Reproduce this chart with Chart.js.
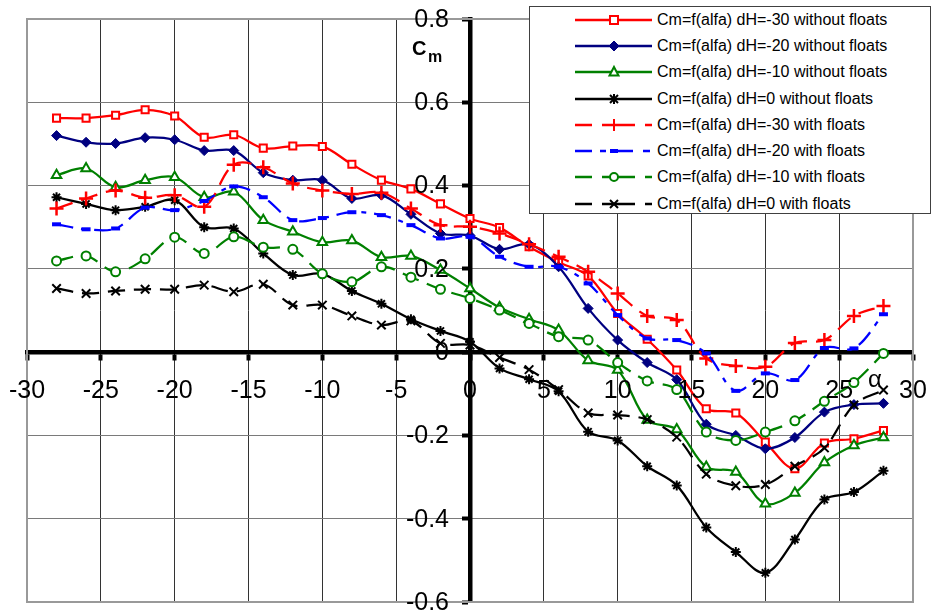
<!DOCTYPE html>
<html>
<head>
<meta charset="utf-8">
<script src="https://cdn.jsdelivr.net/npm/chart.js@4.4.1/dist/chart.umd.min.js"></script>
<style>
html,body{margin:0;padding:0;background:#fff;}
#wrap{position:relative;width:935px;height:613px;overflow:hidden;}
canvas{position:absolute;left:0;top:0;}
#legend{position:absolute;left:529px;top:6px;width:402px;height:208px;border:1px solid #404040;background:#fff;box-sizing:border-box;font-family:"Liberation Sans",Arial,sans-serif;font-size:16px;color:#000;}
.row{position:absolute;left:0;height:20px;width:400px;}
.row svg{position:absolute;left:45px;top:0;}
.row span{position:absolute;left:127px;top:1px;line-height:18px;white-space:nowrap;}
.lbl{position:absolute;font-family:"Liberation Sans",Arial,sans-serif;color:#000;white-space:nowrap;}
</style>
</head>
<body>
<div id="wrap">
<canvas id="c" width="935" height="613"></canvas>
<div id="legend"></div>
<div class="lbl" style="left:412px;top:38px;font-size:20px;line-height:20px;font-weight:bold;">C</div>
<div class="lbl" style="left:428px;top:49px;font-size:16px;line-height:16px;font-weight:bold;">m</div>
<div class="lbl" style="left:868px;top:367px;font-size:24px;line-height:24px;">α</div>
</div>
<script>
// ---- data ----
const alpha = [-28,-26,-24,-22,-20,-18,-16,-14,-12,-10,-8,-6,-4,-2,0,2,4,6,8,10,12,14,16,18,20,22,24,26,28];

const cmM30NoFloats = [0.562,0.562,0.569,0.582,0.567,0.516,0.522,0.490,0.495,0.494,0.451,0.413,0.392,0.356,0.321,0.299,0.253,0.216,0.183,0.093,0.031,-0.043,-0.136,-0.146,-0.216,-0.280,-0.218,-0.208,-0.188];
const cmM20NoFloats = [0.520,0.504,0.501,0.515,0.510,0.484,0.484,0.431,0.413,0.413,0.369,0.377,0.331,0.285,0.280,0.247,0.259,0.205,0.105,0.029,-0.025,-0.066,-0.173,-0.200,-0.232,-0.205,-0.144,-0.126,-0.123];
const cmM10NoFloats = [0.425,0.441,0.396,0.413,0.420,0.372,0.385,0.317,0.289,0.264,0.268,0.228,0.231,0.197,0.153,0.107,0.079,0.053,-0.020,-0.043,-0.163,-0.186,-0.276,-0.288,-0.364,-0.338,-0.265,-0.224,-0.205];
const cm0NoFloats   = [0.372,0.356,0.341,0.349,0.365,0.300,0.297,0.237,0.185,0.188,0.147,0.116,0.079,0.051,0.025,-0.039,-0.065,-0.094,-0.191,-0.212,-0.274,-0.320,-0.421,-0.480,-0.530,-0.450,-0.354,-0.336,-0.285];
const cmM30Floats   = [0.345,0.369,0.388,0.371,0.377,0.349,0.450,0.444,0.405,0.388,0.380,0.383,0.345,0.305,0.301,0.285,0.259,0.229,0.193,0.141,0.087,0.077,-0.015,-0.033,-0.035,0.022,0.029,0.087,0.111];
const cmM20Floats   = [0.307,0.295,0.297,0.347,0.341,0.363,0.398,0.372,0.317,0.322,0.336,0.329,0.305,0.273,0.277,0.229,0.205,0.205,0.165,0.089,0.033,0.029,-0.003,-0.093,-0.051,-0.067,0.010,0.009,0.091];
const cmM10Floats   = [0.219,0.231,0.193,0.224,0.276,0.237,0.277,0.252,0.247,0.188,0.169,0.205,0.180,0.151,0.129,0.101,0.069,0.037,0.029,-0.025,-0.069,-0.090,-0.192,-0.212,-0.192,-0.165,-0.118,-0.073,-0.003];
const cm0Floats     = [0.153,0.141,0.147,0.151,0.151,0.161,0.145,0.163,0.113,0.113,0.087,0.065,0.075,0.021,0.017,-0.013,-0.042,-0.090,-0.146,-0.151,-0.162,-0.204,-0.293,-0.321,-0.318,-0.274,-0.230,-0.127,-0.091];

const seriesNames = [
  "Cm=f(alfa) dH=-30 without floats",
  "Cm=f(alfa) dH=-20 without floats",
  "Cm=f(alfa) dH=-10 without floats",
  "Cm=f(alfa) dH=0 without floats",
  "Cm=f(alfa) dH=-30 with floats",
  "Cm=f(alfa) dH=-20 with floats",
  "Cm=f(alfa) dH=-10 with floats",
  "Cm=f(alfa) dH=0 with floats"
];
const xTickLabels = ["-30","-25","-20","-15","-10","-5","0","5","10","15","20","25","30"];
const yTickLabels = ["-0.6","-0.4","-0.2","0","0.2","0.4","0.6","0.8"];

// ---- styles ----
const FONT = '"Liberation Sans", Arial, sans-serif';
const styles = [
  {color:'#FF0000', dash:[], point:'rect', r:5, bw:2, fill:'#FFFFFF'},
  {color:'#000080', dash:[], point:'rectRot', r:5, bw:1, fill:'#000080'},
  {color:'#008000', dash:[], point:'triangle', r:5.5, bw:2, fill:'#FFFFFF'},
  {color:'#000000', dash:[], point:'star', r:5, bw:2, fill:'#000000'},
  {color:'#FF0000', dash:[17,9], point:'cross', r:7, bw:2.5, fill:'#FF0000'},
  {color:'#0000FF', dash:[17,8,5,8], point:'line', r:4.5, bw:4, fill:'#0000FF'},
  {color:'#008000', dash:[17,9], point:'circle', r:4.5, bw:2, fill:'#FFFFFF'},
  {color:'#000000', dash:[17,9], point:'crossRot', r:6, bw:2, fill:'#000000'}
];
const values = [cmM30NoFloats,cmM20NoFloats,cmM10NoFloats,cm0NoFloats,cmM30Floats,cmM20Floats,cmM10Floats,cm0Floats];

const datasets = values.map((vals,i)=>({
  label: seriesNames[i],
  data: alpha.map((a,k)=>({x:a,y:vals[k]})),
  borderColor: styles[i].color,
  borderWidth: 2.25,
  borderDash: styles[i].dash,
  tension: 0.35,
  fill:false,
  pointStyle: styles[i].point,
  pointRadius: styles[i].r,
  pointBorderWidth: styles[i].bw,
  pointBorderColor: styles[i].color,
  pointBackgroundColor: styles[i].fill,
  order: 8 - i
}));

const framePlugin = {
  id:'frame',
  beforeDatasetsDraw(chart){
    const {ctx, chartArea:a} = chart;
    ctx.save();
    ctx.strokeStyle = '#999999';
    ctx.lineWidth = 2;
    ctx.strokeRect(a.left, a.top, a.right - a.left, a.bottom - a.top);
    ctx.restore();
  }
};

// tick labels placed through the library scales (axes cross at the origin)
const tickLabelPlugin = {
  id:'tickLabels',
  afterDatasetsDraw(chart){
    const {ctx, scales:{x, y}} = chart;
    const x0 = x.getPixelForValue(0), y0 = y.getPixelForValue(0);
    ctx.save();
    ctx.fillStyle = '#000';
    ctx.font = '25px ' + FONT;
    ctx.textBaseline = 'middle';
    ctx.textAlign = 'center';
    x.ticks.forEach((t)=>{
      const i = Math.round((t.value + 30) / 5);
      ctx.fillText(xTickLabels[i], x.getPixelForValue(t.value), y0 + 39);
    });
    ctx.textAlign = 'right';
    y.ticks.forEach((t)=>{
      const i = Math.round((t.value + 0.6) / 0.2);
      ctx.fillText(yTickLabels[i], x0 - 21, y.getPixelForValue(t.value) + 1);
    });
    ctx.restore();
  }
};

new Chart(document.getElementById('c'), {
  type:'line',
  data:{datasets},
  plugins:[framePlugin, tickLabelPlugin],
  options:{
    responsive:false,
    animation:false,
    devicePixelRatio:1,
    layout:{padding:{left:27,right:22,top:19,bottom:11}},
    plugins:{legend:{display:false}, tooltip:{enabled:false}},
    scales:{
      x:{
        type:'linear', min:-30, max:30, position:{y:0},
        ticks:{stepSize:5, display:false},
        grid:{color:'#333333', lineWidth:1, drawTicks:true, tickLength:6, tickWidth:4, tickColor:'#000'},
        border:{display:true, color:'#000', width:4.5}
      },
      y:{
        type:'linear', min:-0.6, max:0.8, position:{x:0},
        ticks:{stepSize:0.2, display:false},
        grid:{color:'#7a7a7a', lineWidth:1, drawTicks:true, tickLength:6, tickWidth:4, tickColor:'#000'},
        border:{display:true, color:'#000', width:4.5}
      }
    }
  }
});

// ---- legend (HTML) ----
function markerSvg(i){
  const s = styles[i], c = s.color, cx = 39, cy = 10;
  switch(s.point){
    case 'rect': return `<rect x="${cx-4}" y="${cy-4}" width="8" height="8" fill="#fff" stroke="${c}" stroke-width="2"/>`;
    case 'rectRot': return `<polygon points="${cx},${cy-5} ${cx+5},${cy} ${cx},${cy+5} ${cx-5},${cy}" fill="${c}" stroke="${c}" stroke-width="1"/>`;
    case 'triangle': return `<polygon points="${cx},${cy-5} ${cx+4.5},${cy+3.5} ${cx-4.5},${cy+3.5}" fill="#fff" stroke="${c}" stroke-width="2"/>`;
    case 'star': return `<path d="M${cx-4} ${cy-4}L${cx+4} ${cy+4}M${cx+4} ${cy-4}L${cx-4} ${cy+4}M${cx} ${cy-5}L${cx} ${cy+5}" stroke="${c}" stroke-width="2"/>`;
    case 'cross': return `<path d="M${cx-6} ${cy}L${cx+6} ${cy}M${cx} ${cy-6}L${cx} ${cy+6}" stroke="${c}" stroke-width="2"/>`;
    case 'line': return `<path d="M${cx-4} ${cy}L${cx+4} ${cy}" stroke="${c}" stroke-width="4"/>`;
    case 'circle': return `<circle cx="${cx}" cy="${cy}" r="4" fill="#fff" stroke="${c}" stroke-width="2"/>`;
    case 'crossRot': return `<path d="M${cx-4} ${cy-4}L${cx+4} ${cy+4}M${cx+4} ${cy-4}L${cx-4} ${cy+4}" stroke="${c}" stroke-width="2"/>`;
  }
  return '';
}
const legendDash = ['', '', '', '', '17 10 33 10 7', '17 8 6 4 23 10 7', '17 10 33 10 7', '17 10 33 10 7'];
const leg = document.getElementById('legend');
const rowCenters = [13, 39, 65, 91.5, 118, 144, 170, 196.5];
seriesNames.forEach((name,i)=>{
  const row = document.createElement('div');
  row.className='row';
  row.style.top = (rowCenters[i]-10)+'px';
  const dash = legendDash[i] ? `stroke-dasharray="${legendDash[i]}"` : '';
  row.innerHTML = `<svg width="80" height="20" viewBox="0 0 80 20"><line x1="0" y1="10" x2="77" y2="10" stroke="${styles[i].color}" stroke-width="2.5" ${dash}/>${markerSvg(i)}</svg><span>${name}</span>`;
  leg.appendChild(row);
});
</script>
</body>
</html>
